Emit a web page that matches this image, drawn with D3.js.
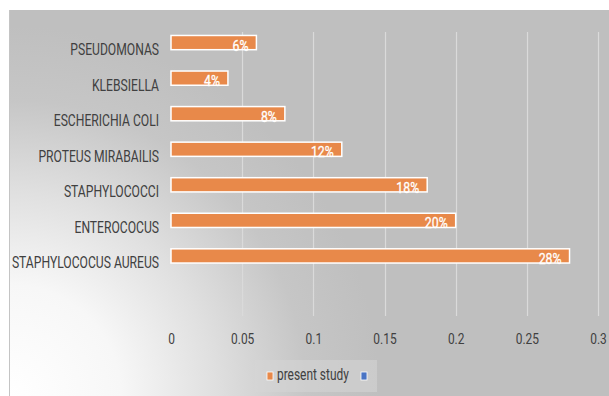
<!DOCTYPE html>
<html>
<head>
<meta charset="utf-8">
<script src="https://cdn.jsdelivr.net/npm/d3@7"></script>
<style>
  body { margin: 0; background: #fff; }
  text { font-family: "Roboto", "Liberation Sans", sans-serif; }
</style>
</head>
<body>
<svg id="chart"></svg>
<script>
"use strict";
const categories = ["PSEUDOMONAS", "KLEBSIELLA", "ESCHERICHIA COLI", "PROTEUS MIRABAILIS",
    "STAPHYLOCOCCI", "ENTEROCOCUS", "STAPHYLOCOCUS AUREUS"];
const presentStudy = [0.06, 0.04, 0.08, 0.12, 0.18, 0.20, 0.28];
const valueLabels = ["6%", "4%", "8%", "12%", "18%", "20%", "28%"];
const xTicks = [0, 0.05, 0.1, 0.15, 0.2, 0.25, 0.3];
const seriesNames = ["present study", ""];
const seriesColors = ["#e8894a", "#4a74c4"];

const width = 609, height = 396;
const svg = d3.select("#chart").attr("width", width).attr("height", height);

// the picture uses a narrow font, so squeeze the text sideways
function condense(sel, k) {
    sel.each(function () {
        let len = this.getComputedTextLength();
        d3.select(this).attr("textLength", len * k).attr("lengthAdjust", "spacingAndGlyphs");
    });
}

// background gradient, white in the lower left corner
let defs = svg.append("defs");
let grad = defs.append("radialGradient")
    .attr("id", "bg")
    .attr("gradientUnits", "userSpaceOnUse")
    .attr("cx", 10).attr("cy", 396).attr("r", 370);
[[0, "#ffffff"], [0.3, "#f7f7f7"], [0.55, "#e0e0e0"], [0.8, "#c6c6c6"], [1, "#bfbfbf"]]
    .forEach(s => grad.append("stop").attr("offset", s[0]).attr("stop-color", s[1]));

svg.append("rect").attr("x", 10).attr("y", 10).attr("width", width - 10).attr("height", height - 10)
    .attr("fill", "url(#bg)");
svg.append("line").attr("x1", 9.5).attr("x2", 9.5).attr("y1", 10).attr("y2", height)
    .attr("stroke", "#c4c4c4");

let x = d3.scaleLinear().domain([0, 0.3]).range([171, 598]);
let y = d3.scaleBand().domain(categories).range([24.8, 273.7]).paddingInner(0.6).paddingOuter(0.3);

// grid
svg.append("g").selectAll("line").data(xTicks.slice(1)).join("line")
    .attr("x1", d => Math.round(x(d)) + 0.5).attr("x2", d => Math.round(x(d)) + 0.5)
    .attr("y1", 32).attr("y2", 316)
    .attr("stroke", "#dadada").attr("stroke-width", 1.2);

// x axis labels
let xAxis = svg.append("g").attr("transform", "translate(0,344)")
    .call(d3.axisBottom(x).tickValues(xTicks).tickSize(0).tickPadding(0).tickFormat(d3.format("")));
xAxis.select(".domain").remove();
xAxis.selectAll("text").attr("dy", 0).attr("font-size", 15.5).attr("fill", "#404040")
    .style("font-family", "Roboto, sans-serif")
    .call(condense, 0.77);

// y axis labels
let yAxis = svg.append("g").attr("transform", "translate(159,0)")
    .call(d3.axisLeft(y).tickSize(0).tickPadding(0));
yAxis.select(".domain").remove();
yAxis.selectAll("text").attr("font-size", 16.5).attr("fill", "#404040").attr("dy", 12.5)
    .style("font-family", "Roboto, sans-serif")
    .call(condense, 0.735);

// bars
let bars = svg.append("g").selectAll("g").data(categories).join("g");
bars.append("rect")
    .attr("x", x(0))
    .attr("y", d => y(d))
    .attr("width", (d, i) => x(presentStudy[i]) - x(0))
    .attr("height", y.bandwidth())
    .attr("fill", seriesColors[0])
    .attr("stroke", "#ffffff").attr("stroke-width", 1.5);
bars.append("text")
    .attr("x", (d, i) => x(presentStudy[i]) - 8)
    .attr("y", d => y(d) + y.bandwidth() + 1)
    .attr("text-anchor", "end")
    .attr("font-size", 15)
    .attr("fill", "#ffffff")
    .attr("stroke", "#ffffff").attr("stroke-width", 0.3)
    .text((d, i) => valueLabels[i])
    .call(condense, 0.82);

// legend
let legend = svg.append("g");
legend.append("rect").attr("x", 255).attr("y", 360).attr("width", 122).attr("height", 32)
    .attr("fill", "#d5d5d5").attr("fill-opacity", 0.55);
legend.append("rect").attr("x", 267).attr("y", 372).attr("width", 6).attr("height", 8)
    .attr("fill", seriesColors[0]).attr("stroke", "#fff").attr("stroke-width", 0.8);
legend.append("text").attr("x", 277).attr("y", 380).attr("font-size", 15.7).attr("fill", "#404040")
    .text(seriesNames[0])
    .call(condense, 0.76);
legend.append("rect").attr("x", 361).attr("y", 372).attr("width", 6).attr("height", 8)
    .attr("fill", seriesColors[1]).attr("stroke", "#fff").attr("stroke-width", 0.8);
</script>
</body>
</html>
